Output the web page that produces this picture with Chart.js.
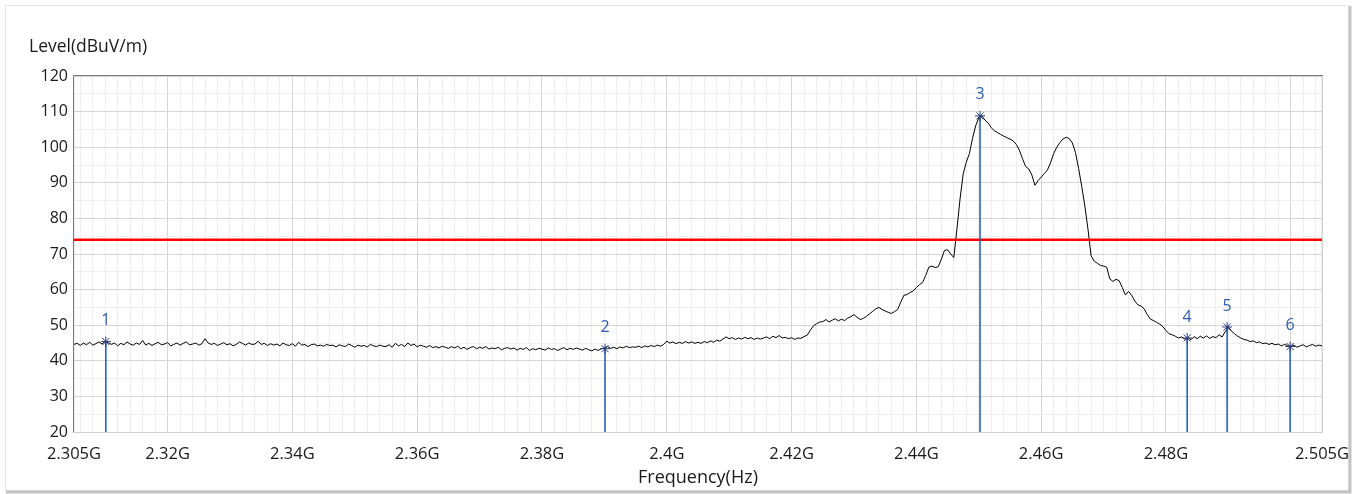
<!DOCTYPE html>
<html><head><meta charset="utf-8">
<script src="https://cdn.jsdelivr.net/npm/chart.js@4.4.1/dist/chart.umd.min.js"></script>
<style>html,body{margin:0;padding:0;background:#fff;}canvas{display:block;}</style>
</head><body>
<canvas id="c" width="1361" height="494"></canvas>
<script>
// Sweep definition (GHz)
const sweepStart = 2.305;
const sweepStep = 0.0005;
// Measured level (dBuV/m), one value per sweep point
const level = [
44.6,44.9,44.3,45.0,44.5,45.2,44.4,44.8,45.3,44.7,45.5,45.1,44.6,45.0,44.2,44.9,44.5,45.3,44.7,44.4,
45.0,44.6,45.7,44.4,44.9,44.3,44.8,45.2,44.5,44.7,45.1,44.2,44.6,45.0,44.4,44.9,45.3,44.5,44.7,45.0,
44.4,44.8,46.2,45.0,44.6,44.9,44.3,44.7,45.1,44.5,44.8,44.2,44.6,45.3,44.9,44.4,45.0,44.6,44.7,45.5,
44.6,44.9,44.3,44.8,44.4,44.7,44.2,45.0,44.5,44.3,44.8,44.1,45.2,44.4,44.6,44.0,44.5,44.7,44.2,44.4,
44.1,44.6,44.3,44.4,43.9,44.5,44.2,44.0,44.7,44.3,43.8,44.4,44.1,44.3,43.9,44.6,44.2,44.0,44.4,44.1,
44.0,44.5,43.8,44.9,44.2,44.6,44.0,45.0,44.3,44.7,43.9,44.4,44.1,43.8,44.3,43.7,44.0,43.6,44.1,43.8,
43.5,44.0,43.6,44.1,43.4,43.8,43.2,43.7,44.0,43.4,43.8,43.5,44.0,43.3,43.6,43.4,43.8,43.1,43.5,43.7,
43.3,43.6,43.0,43.5,43.2,43.7,42.9,43.4,43.1,43.5,43.3,43.0,43.6,43.2,43.4,42.9,43.3,43.7,43.1,43.5,
43.2,43.6,43.3,43.0,43.5,43.1,42.8,43.3,42.9,43.4,43.6,44.0,43.5,43.8,43.4,43.9,43.6,44.1,43.7,43.9,
43.8,44.1,43.7,44.2,43.9,44.3,44.0,44.4,44.1,44.6,45.5,45.0,45.3,44.8,45.2,44.9,45.4,45.0,45.3,44.9,
45.2,44.9,45.4,45.1,45.6,45.2,45.8,45.5,46.1,46.7,46.2,46.5,46.0,46.4,46.1,46.6,46.2,46.5,46.0,46.4,
46.1,46.4,46.7,46.2,46.9,46.5,47.1,46.4,46.6,46.2,46.5,46.0,46.4,46.3,46.8,47.2,48.6,49.8,50.4,50.9,
51.0,51.6,50.9,51.4,51.8,51.2,51.7,51.3,52.0,52.4,53.0,52.2,51.6,51.9,52.5,53.2,53.9,54.6,55.0,54.4,
54.0,53.6,53.3,53.8,54.4,56.5,58.4,58.6,59.2,59.6,60.6,61.4,62.0,64.0,66.3,66.6,66.2,66.4,68.5,71.0,
71.2,70.0,69.0,77.0,85.5,92.5,95.8,98.2,102.5,106.0,108.3,108.8,107.6,106.8,105.5,104.6,104.1,103.6,103.1,102.7,
102.3,101.8,100.8,99.2,96.8,94.6,93.9,92.2,89.3,90.6,91.6,92.6,93.6,95.6,98.2,100.0,101.3,102.3,102.8,102.4,
101.2,98.5,94.0,89.0,83.5,77.0,69.5,68.0,67.4,66.8,66.6,66.3,63.0,62.3,62.9,62.5,60.6,58.5,59.5,58.4,
56.8,55.7,55.4,54.6,53.0,51.7,51.3,50.8,50.3,49.6,48.5,47.6,47.3,46.9,46.4,46.7,46.1,46.6,45.9,46.8,
46.2,46.9,46.4,47.0,46.3,46.8,46.5,47.3,46.7,48.2,49.6,48.3,47.6,46.9,46.4,46.0,45.8,45.4,45.6,45.1,
45.3,44.8,45.0,44.6,44.9,44.5,44.7,44.2,44.6,44.3,44.0,44.4,43.8,44.2,44.5,43.9,44.3,44.6,44.1,44.4,
44.2
];
const limitLevel = 74;
const markerNames = ['1','2','3','4','5','6'];
const markerFreq = [2.3101, 2.3901, 2.4502, 2.4834, 2.4898, 2.4999];
const markerLevel = [45.4, 43.4, 108.8, 46.4, 49.5, 44.0];
const xLabelTicks = [2.305, 2.32, 2.34, 2.36, 2.38, 2.4, 2.42, 2.44, 2.46, 2.48, 2.505];
const xLabelTexts = ['2.305G','2.32G','2.34G','2.36G','2.38G','2.4G','2.42G','2.44G','2.46G','2.48G','2.505G'];
const xMajorGrid = [2.32, 2.34, 2.36, 2.38, 2.4, 2.42, 2.44, 2.46, 2.48, 2.5];
const xMinorStep = 0.002;
const yTicks = [20, 30, 40, 50, 60, 70, 80, 90, 100, 110, 120];
const yMinorStep = 5;
const xMin = 2.305, xMax = 2.505, yMin = 20, yMax = 120;

const near = (a, b) => Math.abs(a - b) < 1e-7;
let xAll = [];
for (let k = Math.ceil(xMin / xMinorStep - 1e-6); k * xMinorStep <= xMax + 1e-9; k++) xAll.push(+(k * xMinorStep).toFixed(4));
xLabelTicks.forEach(v => xAll.push(v));
xAll = xAll.filter(v => v >= xMin - 1e-9 && v <= xMax + 1e-9).sort((a, b) => a - b);
xAll = xAll.filter((v, i) => i === 0 || !near(v, xAll[i - 1]));
let yAll = [];
for (let v = yMin; v <= yMax; v += yMinorStep) yAll.push(v);

const FONT = "'Open Sans', 'DejaVu Sans', sans-serif";
Chart.defaults.font.family = FONT;

const traceData = level.map((v, i) => ({ x: sweepStart + i * sweepStep, y: v }));
const markerSets = markerFreq.map((f, i) => ({
  label: 'M' + markerNames[i],
  data: [{ x: f, y: yMin }, { x: f, y: markerLevel[i] }],
  borderColor: '#2d62c4',
  borderWidth: 1.6,
  pointRadius: [0, 5],
  pointStyle: 'star',
  pointBorderColor: '#2b3f7a',
  pointBorderWidth: 1,
  pointBackgroundColor: 'transparent',
  order: 0
}));

const framePlugin = {
  id: 'frame',
  beforeDraw(chart) {
    const c = chart.ctx;
    c.save();
    c.fillStyle = '#fff';
    c.fillRect(0, 0, chart.width, chart.height);
    c.strokeStyle = '#e4e4e4';
    c.lineWidth = 1;
    c.strokeRect(5.5, 5.5, 1343, 485);
    c.strokeStyle = '#c4c4c4';
    c.lineWidth = 3;
    c.beginPath();
    c.moveTo(1350, 6); c.lineTo(1350, 492); c.lineTo(6, 492);
    c.stroke();
    c.restore();
  },
  beforeDatasetsDraw(chart) {
    const a = chart.chartArea, c = chart.ctx;
    c.save();
    c.lineWidth = 1;
    c.strokeStyle = '#cfcfcf';
    c.beginPath();
    c.moveTo(a.right + 0.5, a.top); c.lineTo(a.right + 0.5, a.bottom + 0.5); c.lineTo(a.left, a.bottom + 0.5);
    c.stroke();
    c.strokeStyle = '#7a7a7a';
    c.beginPath();
    c.moveTo(a.left - 0.5, a.bottom + 0.5); c.lineTo(a.left - 0.5, a.top - 0.5); c.lineTo(a.right + 1, a.top - 0.5);
    c.stroke();
    c.restore();
  },
  afterDraw(chart) {
    const c = chart.ctx, xs = chart.scales.x, ys = chart.scales.y;
    c.save();
    c.font = '16px ' + FONT;
    c.fillStyle = '#2f5db5';
    c.textAlign = 'center';
    c.textBaseline = 'middle';
    markerFreq.forEach((f, i) => {
      c.fillText(markerNames[i], xs.getPixelForValue(f), ys.getPixelForValue(markerLevel[i]) - 21);
    });
    c.font = '17.5px ' + FONT;
    c.fillStyle = '#1a1a1a';
    c.textAlign = 'left';
    c.fillText('Level(dBuV/m)', 29, 47);
    c.restore();
  }
};

new Chart(document.getElementById('c'), {
  type: 'line',
  data: {
    datasets: [
      ...markerSets,
      { label: 'Limit', data: [{ x: xMin, y: limitLevel }, { x: xMax, y: limitLevel }], borderColor: '#ff0000', borderWidth: 2.5, pointRadius: 0, order: 1 },
      { label: 'Trace', data: traceData, borderColor: '#000', borderWidth: 1, pointRadius: 0, tension: 0, order: 2 }
    ]
  },
  options: {
    responsive: false,
    animation: false,
    events: [],
    layout: { padding: { left: 0, right: 39, top: 76, bottom: 0 } },
    plugins: { legend: { display: false }, tooltip: { enabled: false } },
    scales: {
      x: {
        type: 'linear', min: xMin, max: xMax,
        afterBuildTicks: s => { s.ticks = xAll.map(v => ({ value: v })); },
        afterFit: s => { s.height = 62; },
        ticks: {
          autoSkip: false, maxRotation: 0, padding: 12, color: '#1a1a1a', font: { size: 16.5 },
          callback: v => { const i = xLabelTicks.findIndex(t => near(t, v)); return i >= 0 ? xLabelTexts[i] : ''; }
        },
        grid: {
          drawTicks: false,
          color: ctx => xMajorGrid.some(t => near(t, ctx.tick.value)) ? '#d6d6d6' : '#eeeeee',
          lineWidth: 1
        },
        border: { display: false },
        title: { display: true, text: 'Frequency(Hz)', color: '#1a1a1a', font: { size: 18 }, padding: { top: 0, bottom: 5 } }
      },
      y: {
        type: 'linear', min: yMin, max: yMax,
        afterBuildTicks: s => { s.ticks = yAll.map(v => ({ value: v })); },
        afterFit: s => { s.width = 74; },
        ticks: {
          autoSkip: false, padding: 6, color: '#1a1a1a', font: { size: 16 },
          callback: v => yTicks.includes(v) ? String(v) : ''
        },
        grid: {
          drawTicks: false,
          color: ctx => yTicks.includes(ctx.tick.value) ? '#d6d6d6' : '#eeeeee',
          lineWidth: 1
        },
        border: { display: false }
      }
    }
  },
  plugins: [framePlugin]
});
</script>
</body></html>
